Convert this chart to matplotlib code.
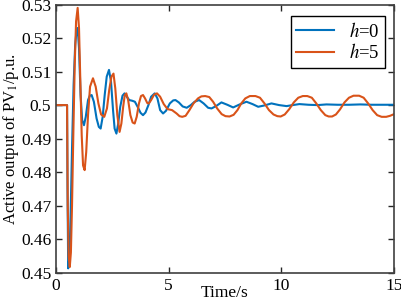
# active output of PV1 after a disturbance, two values of h

import numpy as np
import matplotlib.pyplot as plt

t_h0 = [0, 0.49, 0.51, 0.54, 0.6, 0.65, 0.71, 0.78, 0.85, 0.92, 0.96, 1.02, 1.09, 1.16,
        1.24, 1.32, 1.42, 1.5, 1.58, 1.68, 1.8, 1.9, 1.98, 2.07, 2.16, 2.25, 2.35, 2.44,
        2.53, 2.6, 2.68, 2.76, 2.85, 2.95, 3.04, 3.14, 3.25, 3.38, 3.5, 3.62, 3.75, 3.86,
        3.97, 4.1, 4.22, 4.38, 4.5, 4.62, 4.75, 4.88, 5.05, 5.2, 5.3, 5.45, 5.62, 5.8,
        5.98, 6.15, 6.35, 6.55, 6.75, 6.9, 7.1, 7.34, 7.6, 7.86, 8.15, 8.45, 8.72, 8.97,
        9.25, 9.56, 9.9, 10.23, 10.5, 10.8, 11.2, 11.6, 12.0, 12.5, 13.0, 13.5, 14.0,
        14.5, 15.0]
p_h0 = [0.5, 0.5, 0.475, 0.4513, 0.455, 0.468, 0.487, 0.506, 0.518, 0.5228, 0.523, 0.517,
        0.503, 0.4955, 0.494, 0.4965, 0.5015, 0.5028, 0.503, 0.501, 0.496, 0.4935, 0.493,
        0.4965, 0.503, 0.5085, 0.5105, 0.507, 0.4985, 0.493, 0.4915, 0.4945, 0.4995,
        0.5028, 0.5035, 0.5025, 0.5015, 0.5013, 0.501, 0.4995, 0.4977, 0.497, 0.4978, 0.5,
        0.5025, 0.5035, 0.502, 0.4985, 0.4975, 0.4983, 0.5005, 0.5014, 0.5015, 0.5008,
        0.4996, 0.4992, 0.5, 0.501, 0.5015, 0.5005, 0.4992, 0.499, 0.4997, 0.5008, 0.5001,
        0.4993, 0.5002, 0.501, 0.5003, 0.4995, 0.4999, 0.5005, 0.5, 0.4997, 0.5, 0.5003,
        0.5001, 0.5, 0.5002, 0.5001, 0.5001, 0.5002, 0.5001, 0.5001, 0.5001]

t_h5 = [0, 0.49, 0.52, 0.56, 0.61, 0.66, 0.71, 0.77, 0.83, 0.89, 0.96, 1.02, 1.08, 1.14,
        1.2, 1.27, 1.34, 1.42, 1.51, 1.64, 1.76, 1.88, 2.0, 2.14, 2.26, 2.36, 2.46, 2.55,
        2.63, 2.72, 2.82, 2.9, 2.98, 3.05, 3.12, 3.2, 3.3, 3.4, 3.49, 3.58, 3.68, 3.77,
        3.86, 3.95, 4.05, 4.12, 4.22, 4.35, 4.48, 4.62, 4.78, 4.95, 5.15, 5.35, 5.48, 5.6,
        5.75, 5.92, 6.1, 6.3, 6.45, 6.62, 6.8, 6.97, 7.15, 7.35, 7.52, 7.7, 7.88, 8.05,
        8.22, 8.4, 8.6, 8.85, 9.05, 9.25, 9.45, 9.65, 9.82, 9.97, 10.15, 10.35, 10.55,
        10.75, 10.95, 11.15, 11.35, 11.55, 11.75, 11.95, 12.1, 12.25, 12.42, 12.6, 12.8,
        13.0, 13.2, 13.45, 13.65, 13.85, 14.05, 14.25, 14.45, 14.65, 14.82, 15.0]
p_h5 = [0.5, 0.5, 0.47, 0.455, 0.4517, 0.456, 0.47, 0.492, 0.512, 0.525, 0.529, 0.523,
        0.507, 0.491, 0.482, 0.4806, 0.486, 0.497, 0.5055, 0.508, 0.5055, 0.5005, 0.4972,
        0.4965, 0.499, 0.5045, 0.5085, 0.5094, 0.505, 0.497, 0.492, 0.4945, 0.4995, 0.503,
        0.5035, 0.5015, 0.497, 0.4948, 0.4945, 0.4965, 0.5005, 0.5027, 0.503, 0.502,
        0.5006, 0.5005, 0.5015, 0.5031, 0.5035, 0.5025, 0.5003, 0.4988, 0.4985, 0.4975,
        0.4967, 0.4965, 0.4968, 0.4985, 0.5005, 0.502, 0.5026, 0.5027, 0.5024, 0.501,
        0.499, 0.4973, 0.4967, 0.4966, 0.4971, 0.4985, 0.5005, 0.502, 0.5027, 0.5027,
        0.5022, 0.5005, 0.4985, 0.4972, 0.4967, 0.4966, 0.4972, 0.4988, 0.5008, 0.5022,
        0.5027, 0.5027, 0.5022, 0.5005, 0.4985, 0.497, 0.4966, 0.4966, 0.4972, 0.4987,
        0.5008, 0.5022, 0.5028, 0.5028, 0.5022, 0.5005, 0.4985, 0.497, 0.4965, 0.4965,
        0.4968, 0.4973]

x_ticks = [0, 5, 10, 15]
y_ticks = [0.45, 0.46, 0.47, 0.48, 0.49, 0.5, 0.51, 0.52, 0.53]
y_labels = ['0.45', '0.46', '0.47', '0.48', '0.49', '0.5', '0.51', '0.52', '0.53']

plt.rcParams['font.family'] = 'Liberation Serif'
plt.rcParams['mathtext.fontset'] = 'stix'

fig = plt.figure(figsize=(4.01, 3.02), dpi=100)
ax = fig.add_axes([0.1397, 0.097, 0.843, 0.888])

ax.plot(t_h0, p_h0, color='#0072BD', lw=1.5, label='$h$=0')
ax.plot(t_h5, p_h5, color='#D95319', lw=1.5, label='$h$=5')

ax.set_xlim(0, 15)
ax.set_ylim(0.45, 0.53)
ax.set_xticks(x_ticks)
ax.set_yticks(y_ticks)
ax.set_yticklabels(y_labels)
ax.tick_params(direction='in', length=4, width=1, colors='#262626', labelsize=12.5,
               top=True, right=True, labelcolor='black')
for s in ax.spines.values():
    s.set_color('#404040')
    s.set_linewidth(1.2)

ax.set_xlabel('Time/s', fontsize=12.5, labelpad=-6)
ax.set_ylabel('Active output of PV$_1$/p.u.', fontsize=12, labelpad=0)

leg = ax.legend(loc='upper right', bbox_to_anchor=(1 - 9/338, 1 - 11.5/268),
                borderaxespad=0, fontsize=13.5, fancybox=False, framealpha=1,
                edgecolor='black', handlelength=2.0, borderpad=0.3,
                labelspacing=0.15)
leg.get_frame().set_linewidth(1.0)

plt.savefig('out.png', dpi=100)
